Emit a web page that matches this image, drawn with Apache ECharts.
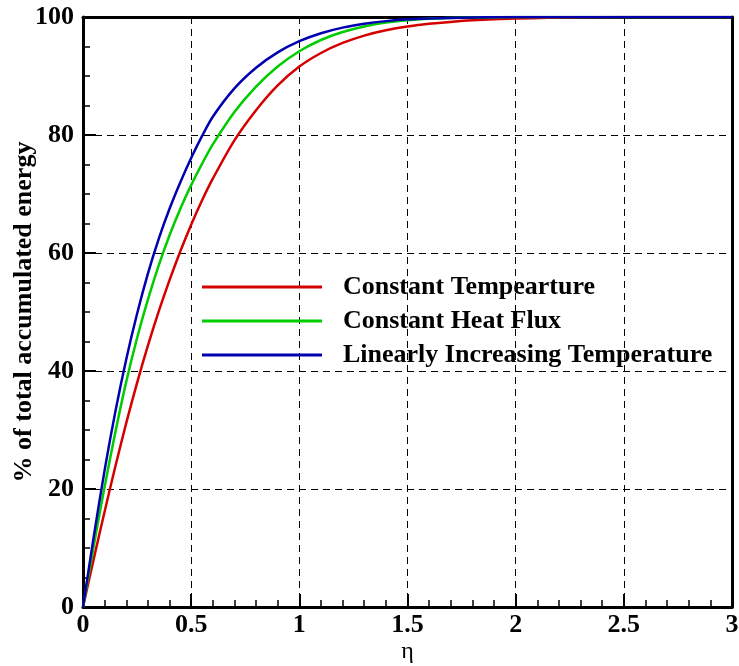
<!DOCTYPE html>
<html>
<head>
<meta charset="utf-8">
<script src="https://cdn.jsdelivr.net/npm/echarts@6/dist/echarts.min.js"></script>
<style>html,body{margin:0;padding:0;background:#fff;}#c{width:739px;height:666px;}</style>
</head>
<body>
<div id="c"></div>
<script>
var eta = [0, 0.05, 0.1, 0.15, 0.2, 0.25, 0.3, 0.35, 0.4, 0.45, 0.5, 0.55, 0.6, 0.7, 0.8, 0.9, 1.0, 1.1, 1.2, 1.3, 1.4, 1.5, 1.6, 1.8, 2.0, 2.5, 3.0];
var constTemp = [0, 8.2, 16.2, 23.9, 31.2, 38, 44.3, 50.1, 55.4, 60.3, 64.8, 68.9, 72.6, 79.1, 84.2, 88.4, 91.6, 93.9, 95.6, 96.85, 97.75, 98.4, 98.85, 99.45, 99.75, 100, 100];
var constFlux = [0, 10.4, 20.4, 29.7, 38.2, 45.6, 52.1, 57.9, 63.0, 67.5, 71.5, 75.1, 78.4, 83.9, 88.2, 91.6, 94.2, 96.1, 97.45, 98.4, 99.05, 99.45, 99.7, 99.9, 100, 100, 100];
var linTemp = [0, 12, 23.2, 33.2, 42, 49.7, 56.5, 62.4, 67.5, 72, 76.1, 79.8, 83.1, 87.9, 91.4, 94.0, 95.9, 97.25, 98.2, 98.85, 99.3, 99.6, 99.75, 99.92, 100, 100, 100];
var seriesNames = ['Constant Tempearture', 'Constant Heat Flux', 'Linearly Increasing Temperature'];
var seriesColors = ['#d40000', '#00cc00', '#0000b0'];
var xTicks = [0, 0.5, 1, 1.5, 2, 2.5, 3];
var yTicks = [0, 20, 40, 60, 80, 100];

var font = "'Liberation Serif', 'Times New Roman', serif";
function pairs(ys){ return eta.map(function(x,i){ return [x, ys[i]]; }); }
var allY = [constTemp, constFlux, linTemp];

var chart = echarts.init(document.getElementById('c'), null, {renderer:'canvas'});
var axisLbl = {fontFamily: font, fontWeight: 'bold', fontSize: 26, color: '#000'};
chart.setOption({
  animation: false,
  backgroundColor: '#fff',
  grid: {left: 83, right: 7, top: 17, bottom: 59, containLabel: false, outerBoundsMode: 'none'},
  legend: {
    left: 197, top: 269, orient: 'vertical',
    icon: 'rect', itemWidth: 120, itemHeight: 3, itemGap: 8,
    textStyle: {fontFamily: font, fontWeight: 'bold', fontSize: 26, lineHeight: 26, color: '#000', padding: [0,0,0,16]},
    data: seriesNames
  },
  xAxis: [{
    type: 'value', min: 0, max: 3, interval: 0.5,
    name: 'η', nameLocation: 'middle', nameGap: 33, nameMoveOverlap: false,
    nameTextStyle: {fontFamily: font, fontSize: 24, color: '#000'},
    axisLine: {show: true, lineStyle: {color: '#000', width: 3}},
    axisTick: {show: true, inside: true, length: 13, lineStyle: {color: '#000', width: 2}},
    minorTick: {show: true, splitNumber: 5, length: 7, lineStyle: {color: '#000', width: 1.5}},
    axisLabel: Object.assign({margin: 5, formatter: function(v){ return xTicks.indexOf(v) >= 0 ? String(v) : ''; }}, axisLbl),
    splitLine: {show: true, lineStyle: {color: '#000', width: 1, type: [7,5]}}
  }, {
    type: 'value', min: 0, max: 3, position: 'top',
    axisLine: {show: true, onZero: false, lineStyle: {color: '#000', width: 3}},
    axisTick: {show: false}, axisLabel: {show: false}, splitLine: {show: false}
  }],
  yAxis: [{
    type: 'value', min: 0, max: 100, interval: 20,
    name: '% of total accumulated energy', nameLocation: 'middle', nameGap: 46, nameRotate: 90, nameMoveOverlap: false,
    nameTextStyle: {fontFamily: font, fontWeight: 'bold', fontSize: 26, color: '#000'},
    axisLine: {show: true, lineStyle: {color: '#000', width: 3}},
    axisTick: {show: true, inside: true, length: 13, lineStyle: {color: '#000', width: 2}},
    minorTick: {show: true, splitNumber: 4, length: 7, lineStyle: {color: '#000', width: 1.5}},
    axisLabel: Object.assign({margin: 9, formatter: function(v){ return yTicks.indexOf(v) >= 0 ? String(v) : ''; }}, axisLbl),
    splitLine: {show: true, lineStyle: {color: '#000', width: 1, type: [7,5]}}
  }, {
    type: 'value', min: 0, max: 100, position: 'right',
    axisLine: {show: true, onZero: false, lineStyle: {color: '#000', width: 3}},
    axisTick: {show: false}, axisLabel: {show: false}, splitLine: {show: false}
  }],
  series: seriesNames.map(function(n, i){
    return {
      name: n, type: 'line', smooth: 0.3, symbol: 'none', showSymbol: false,
      data: pairs(allY[i]), clip: true,
      lineStyle: {color: seriesColors[i], width: 2.5},
      itemStyle: {color: seriesColors[i]}
    };
  })
});
</script>
</body>
</html>
